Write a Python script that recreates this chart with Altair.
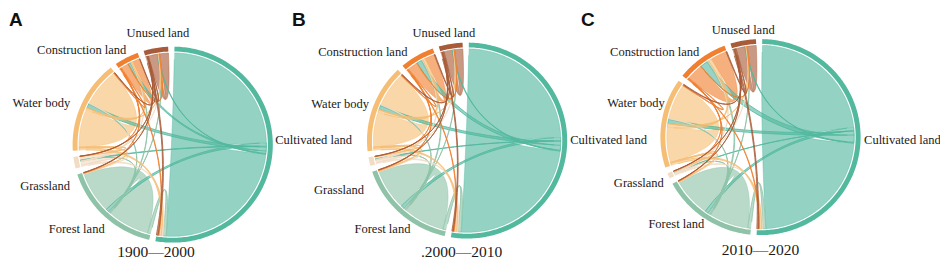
import math
import altair as alt
import pandas as pd

# ---------------- data ----------------
categories = ["Cultivated land", "Forest land", "Grassland", "Water body",
              "Construction land", "Unused land"]
colors = ["#52B89E", "#8EC3A8", "#F2DCC4", "#F5BE74", "#F0802F", "#A85B38"]
periods = ["1900\u20142000", ".2000\u20142010", "2010\u20142020"]
letters = ["A", "B", "C"]

# transfer matrices: row = from, column = to (order as categories)
flows_1900_2000 = [
    [88.0, 2.0, 0.5, 2.5, 1.5, 0.5],
    [2.0, 26.0, 0.3, 0.5, 0.5, 0.2],
    [1.0, 0.3, 2.0, 0.2, 0.1, 0.1],
    [1.5, 0.4, 0.2, 24.0, 1.0, 0.3],
    [0.5, 0.3, 0.1, 0.5, 4.5, 0.3],
    [1.0, 0.2, 0.1, 0.3, 0.3, 5.5],
]
flows_2000_2010 = [
    [85.0, 2.0, 0.3, 2.5, 3.0, 0.5],
    [2.0, 25.0, 0.3, 0.5, 0.8, 0.2],
    [0.8, 0.3, 1.2, 0.2, 0.2, 0.1],
    [1.5, 0.5, 0.2, 21.5, 1.5, 0.3],
    [0.5, 0.3, 0.1, 0.5, 6.0, 0.3],
    [0.8, 0.2, 0.1, 0.5, 0.5, 5.0],
]
flows_2010_2020 = [
    [82.0, 2.0, 0.2, 2.5, 4.5, 0.5],
    [2.0, 24.0, 0.2, 0.5, 1.0, 0.2],
    [0.5, 0.2, 0.6, 0.2, 0.2, 0.1],
    [1.5, 0.5, 0.1, 22.0, 2.0, 0.3],
    [0.5, 0.3, 0.1, 0.5, 10.0, 0.3],
    [1.0, 0.2, 0.1, 0.5, 0.5, 5.5],
]
flows = [flows_1900_2000, flows_2000_2010, flows_2010_2020]

# ---------------- layout / style ----------------
CENTERS = [(169.0, 145.5), (467.5, 141.3), (765.0, 137.7)]
R_OUT, R_IN, R_LINK = 101.5, 96.5, 95.0
GAP = 3.6
START = 1.0
LABEL_OFF = [
    {"Cultivated land": (104, -4.5, "left"), "Forest land": (-69, 87, "right"),
     "Grassland": (-104, 42.5, "right"), "Water body": (-104, -43.5, "right"),
     "Construction land": (-47, -97.5, "right"), "Unused land": (-15, -115.5, "center")},
    {"Cultivated land": (104.5, -0.3, "left"), "Forest land": (-57.5, 91.7, "right"),
     "Grassland": (-104.5, 50.7, "right"), "Water body": (-99.5, -38.3, "right"),
     "Construction land": (-60.5, -91.3, "right"), "Unused land": (-23.5, -111.3, "center")},
    {"Cultivated land": (105, 3.3, "left"), "Forest land": (-57, 89.8, "right"),
     "Grassland": (-98, 47.3, "right"), "Water body": (-97, -35.7, "right"),
     "Construction land": (-62, -87.7, "right"), "Unused land": (-17.5, -110.7, "center")},
]
TITLE_POS = [(152, 257), (462, 257), (765, 255)]
LETTER_POS = [(3, 7.5), (290, 7.5), (583, 7.5)]

XS = alt.Scale(domain=[2, 947])
YS = alt.Scale(domain=[4, 265], reverse=True)


def pt(c, r, deg):
    a = math.radians(deg)
    return (c[0] + r * math.sin(a), c[1] - r * math.cos(a))


def arc_pts(c, r, a0, a1, step=1.0):
    n = max(2, int(abs(a1 - a0) / step) + 2)
    return [pt(c, r, a0 + (a1 - a0) * t / (n - 1)) for t in range(n)]


def bez(c, p0, p2, n=28):
    out = []
    for s in range(1, n):
        t = s / n
        x = (1 - t) ** 2 * p0[0] + 2 * (1 - t) * t * c[0] + t * t * p2[0]
        y = (1 - t) ** 2 * p0[1] + 2 * (1 - t) * t * c[1] + t * t * p2[1]
        out.append((x, y))
    return out


arc_rows, self_rows, link_rows = [], [], []
for p, M in enumerate(flows):
    c = CENTERS[p]
    n = len(categories)
    sizes = [sum(M[i]) + sum(M[j][i] for j in range(n)) for i in range(n)]
    k = (360.0 - n * GAP) / sum(sizes)
    starts, a = [], START
    for i in range(n):
        starts.append(a)
        a += sizes[i] * k + GAP
    out_span, in_span = {}, {}
    for i in range(n):
        q = starts[i]
        for j in range(n):
            out_span[(i, j)] = (q, q + M[i][j] * k)
            q += M[i][j] * k
        for j in range(n):
            in_span[(j, i)] = (q, q + M[j][i] * k)
            q += M[j][i] * k
        a0, a1 = starts[i], starts[i] + sizes[i] * k
        poly = arc_pts(c, R_OUT, a0, a1) + arc_pts(c, R_IN, a1, a0)
        for idx, (x, y) in enumerate(poly):
            arc_rows.append({"pid": f"a{p}-{i}", "k": idx, "x": x, "y": y,
                             "color": colors[i]})
    for i in range(n):
        for j in range(n):
            s0, s1 = out_span[(i, j)]
            t0, t1 = in_span[(i, j)]
            poly = (arc_pts(c, R_LINK, s0, s1, 0.8)
                    + bez(c, pt(c, R_LINK, s1), pt(c, R_LINK, t0))
                    + arc_pts(c, R_LINK, t0, t1, 0.8)
                    + bez(c, pt(c, R_LINK, t1), pt(c, R_LINK, s0)))
            target = self_rows if i == j else link_rows
            for idx, (x, y) in enumerate(poly):
                target.append({"pid": f"l{p}-{i}-{j}", "k": idx, "x": x, "y": y,
                               "color": colors[i]})

label_rows, title_rows, letter_rows = [], [], []
for p in range(3):
    c = CENTERS[p]
    for cat in categories:
        dx, dy, al = LABEL_OFF[p][cat]
        label_rows.append({"text": cat, "x": c[0] + dx, "y": c[1] + dy, "align": al})
    title_rows.append({"text": periods[p], "x": TITLE_POS[p][0], "y": TITLE_POS[p][1]})
    letter_rows.append({"text": letters[p], "x": LETTER_POS[p][0], "y": LETTER_POS[p][1]})


def poly_layer(rows, fill_op, sw, sop):
    return alt.Chart(pd.DataFrame(rows)).mark_line(
        filled=True, fillOpacity=fill_op, strokeWidth=sw, strokeOpacity=sop
    ).encode(
        x=alt.X("x:Q", scale=XS, axis=None),
        y=alt.Y("y:Q", scale=YS, axis=None),
        detail="pid:N",
        order="k:Q",
        color=alt.Color("color:N", scale=None),
        stroke=alt.Stroke("color:N", scale=None),
    )


layers = [
    poly_layer(self_rows, 0.62, 0.6, 0.7),
    poly_layer(link_rows, 0.6, 0.9, 0.9),
    poly_layer(arc_rows, 1.0, 0.0, 0.0),
]

ldf = pd.DataFrame(label_rows)
for al in ["left", "right", "center"]:
    layers.append(
        alt.Chart(ldf[ldf["align"] == al]).mark_text(
            align=al, baseline="middle", font="Liberation Serif", fontSize=12.5,
            color="#1a1a1a"
        ).encode(x=alt.X("x:Q", scale=XS, axis=None),
                 y=alt.Y("y:Q", scale=YS, axis=None), text="text:N")
    )

layers.append(
    alt.Chart(pd.DataFrame(title_rows)).mark_text(
        align="center", baseline="middle", font="Liberation Serif", fontSize=15.5,
        color="#1a1a1a"
    ).encode(x=alt.X("x:Q", scale=XS, axis=None),
             y=alt.Y("y:Q", scale=YS, axis=None), text="text:N")
)
layers.append(
    alt.Chart(pd.DataFrame(letter_rows)).mark_text(
        align="left", baseline="top", font="Liberation Sans", fontSize=19,
        fontWeight="bold", color="#111111"
    ).encode(x=alt.X("x:Q", scale=XS, axis=None),
             y=alt.Y("y:Q", scale=YS, axis=None), text="text:N")
)

chart = alt.layer(*layers).properties(
    width=932, height=252, padding=0,
    autosize=alt.AutoSizeParams(type="none"),
).configure_view(stroke=None)

chart.save("out.html", embed_options={"renderer": "svg", "actions": False})
